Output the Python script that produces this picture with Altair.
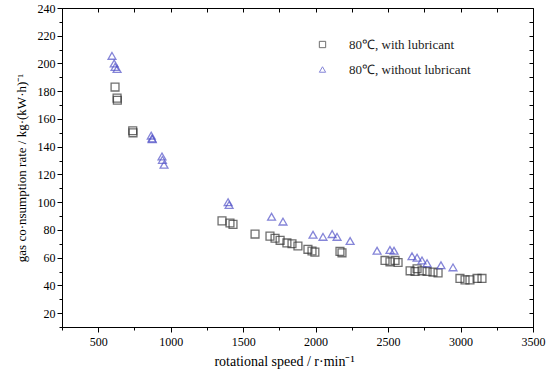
import altair as alt
import pandas as pd

sq_x = [616, 630, 632, 738, 740, 1354, 1409, 1430, 1582, 1685, 1720, 1755, 1802, 1837, 1878,
        1947, 1975, 1995, 2168, 2182, 2479, 2513, 2548, 2569, 2652, 2686, 2700, 2734, 2769,
        2810, 2845, 2996, 3031, 3065, 3114, 3148]
sq_y = [183, 175, 173.5, 151.5, 150, 86.5, 85, 84, 77, 75.5, 74, 72.5, 70.6, 70, 68.4,
        66, 64.8, 64, 64.5, 63.5, 58, 57, 58, 56.5, 50.5, 50, 52, 50.5, 50,
        49.6, 49, 45, 44, 44, 45, 45]
tr_x = [595, 610, 616, 630, 866, 871, 873, 940, 943, 954, 1396, 1403, 1696, 1775, 1982,
        2051, 2114, 2148, 2238, 2424, 2513, 2541, 2665, 2700, 2734, 2769, 2865, 2948]
tr_y = [205.5, 200, 197.5, 196, 148, 146, 145.5, 133, 130.5, 127, 100, 98, 89.5, 86, 76.5,
        75, 77, 75, 72, 65, 65.5, 65, 61, 60, 58, 56, 54.5, 53]

s1 = "80℃, with lubricant"
s2 = "80℃, without lubricant"

df = pd.concat([
    pd.DataFrame({"x": sq_x, "y": sq_y, "s": s1}),
    pd.DataFrame({"x": tr_x, "y": tr_y, "s": s2}),
])

FONT = "Liberation Serif"
xdom = [250, 3500]
ydom = [10, 240]
x_minor = list(range(250, 3501, 250))
y_minor = list(range(10, 241, 10))

leg = alt.Legend(title=None, orient="none", legendX=254, legendY=30,
                 labelFont=FONT, labelFontSize=13, labelColor="#222",
                 labelOffset=20, rowPadding=11, symbolSize=40,
                 symbolStrokeWidth=1)

base = alt.Chart(df)

pts = base.mark_point(filled=False, strokeWidth=1.3, size=62).encode(
    x=alt.X("x:Q", scale=alt.Scale(domain=xdom, nice=False, zero=False),
            title="rotational speed / r·min⁻¹",
            axis=alt.Axis(values=x_minor, labelExpr="datum.value % 500 == 0 ? datum.label : ''",
                          grid=False, domainColor="black", tickColor="black",
                          tickSize={"condition": {"test": "datum.value % 500 == 0", "value": 5}, "value": 3},
                          labelFont=FONT, labelFontSize=12, labelColor="black", labelPadding=4,
                          format="d", titleFont=FONT, titleFontSize=14, titleFontWeight="normal",
                          titleColor="black", titlePadding=7, titleX=222, labelFlush=False)),
    y=alt.Y("y:Q", scale=alt.Scale(domain=ydom, nice=False, zero=False),
            title="gas co·nsumption rate  / kg·(kW·h)⁻¹",
            axis=alt.Axis(values=y_minor, labelExpr="datum.value % 20 == 0 ? datum.label : ''",
                          grid=False, domainColor="black", tickColor="black",
                          tickSize={"condition": {"test": "datum.value % 20 == 0", "value": 5}, "value": 3},
                          labelFont=FONT, labelFontSize=12, labelColor="black", labelPadding=2,
                          titleFont=FONT, titleFontSize=13, titleFontWeight="normal",
                          titleColor="black", titlePadding=9, labelFlush=False)),
    shape=alt.Shape("s:N", scale=alt.Scale(domain=[s1, s2], range=["square", "triangle-up"]),
                    legend=leg),
    color=alt.Color("s:N", scale=alt.Scale(domain=[s1, s2], range=["#333333", "#5252c8"]),
                    legend=leg),
)

mirror = base.mark_point(opacity=0).encode(
    x=alt.X("x:Q", scale=alt.Scale(domain=xdom, nice=False, zero=False), title=None,
            axis=alt.Axis(orient="top", values=x_minor, labels=False, domain=False, grid=False,
                          tickColor="black", tickSize=4, offset=-4)),
    y=alt.Y("y:Q", scale=alt.Scale(domain=ydom, nice=False, zero=False), title=None,
            axis=alt.Axis(orient="right", values=y_minor, labels=False, domain=False, grid=False,
                          tickColor="black", tickSize=4, offset=-4)),
)

chart = alt.layer(pts, mirror).resolve_axis(x="independent", y="independent").properties(
    width=471, height=319,
    autosize=alt.AutoSizeParams(type="none"),
    padding={"left": 62, "top": 8, "right": 22, "bottom": 50},
    background="white",
).configure_view(stroke="black", strokeWidth=1)

chart.save("out.html", embed_options={"renderer": "svg", "actions": False})
